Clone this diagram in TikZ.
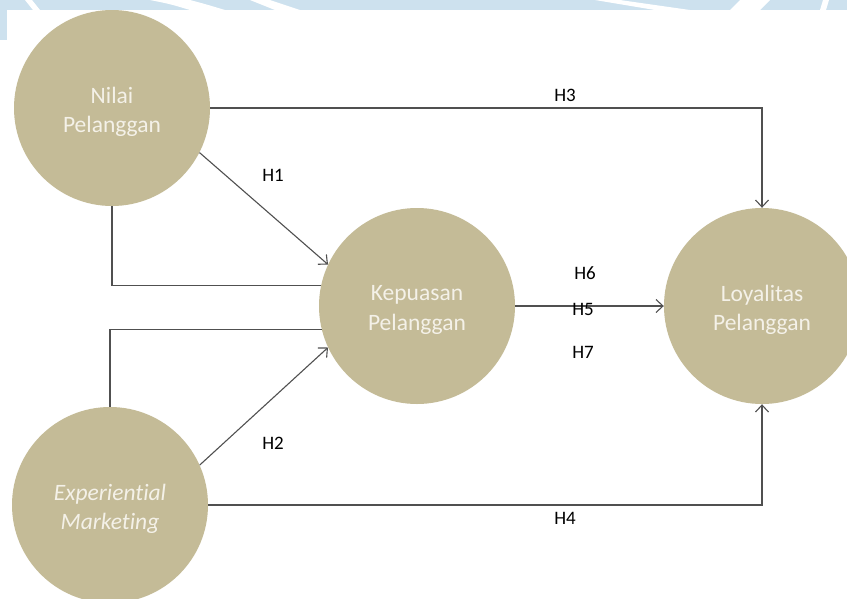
\documentclass[tikz,border=0pt]{standalone}
\usepackage{fontspec}
\setmainfont{Carlito}[Ligatures={NoCommon}]
\usetikzlibrary{arrows.meta}
\definecolor{khaki}{HTML}{C4BB97}
\definecolor{ctext}{HTML}{F4F1E8}
\definecolor{wm}{HTML}{CDE1EE}
\definecolor{lgray}{HTML}{505050}
\tikzset{
  var/.style={circle, fill=khaki, minimum size=196pt, inner sep=0pt},
  vtext/.style={text=ctext, align=center, inner sep=0pt, yshift=-4pt,
    font=\fontsize{23.5}{29.5}\selectfont},
  conn/.style={draw=lgray, line width=1.1pt},
  arr/.style={conn, -{Straight Barb[length=7pt,width=13pt,line width=1.1pt]}},
  hlab/.style={font=\fontsize{19}{22}\selectfont, text=black, inner sep=0pt}
}
\begin{document}
\begin{tikzpicture}[x=1pt,y=-1pt]
\useasboundingbox (0,0) rectangle (847,598);
\clip (0,0) rectangle (847,598);
\fill[white] (0,0) rectangle (847,598);
% watermark band
\fill[wm] (0,0) rectangle (847,10);
\fill[wm] (0,0) rectangle (7,40);
\fill[white] (25,0) -- (32,0) -- (40,10) -- (33,10) -- cycle;
\fill[white] (150,0) .. controls (170,4) .. (190,10) -- (225,10) .. controls (205,4) .. (190,0) -- cycle;
\fill[white] (250,0) -- (275,10) -- (300,10) -- (270,0) -- cycle;
\fill[white] (595,0) -- (655,10) -- (690,10) -- (620,0) -- cycle;
\fill[white] (740,0) -- (730,10) -- (760,10) -- (770,0) -- cycle;
\fill[white] (823,0) -- (820,10) -- (826,10) -- (829,0) -- cycle;

\node[var] (nilai) at (112,108) {};
\node[var] (kep) at (417,306) {};
\node[var] (loyal) at (762,306) {};
\node[var] (exp) at (110,505) {};
\node[vtext] (nilaiT) at (nilai) {Nilai\\Pelanggan};
\node[vtext] (kepT) at (kep) {Kepuasan\\Pelanggan};
\node[vtext] (loyalT) at (loyal) {Loyalitas\\Pelanggan};
\node[vtext, font=\fontsize{23.5}{29.5}\selectfont\itshape] (expT) at (exp) {Experiential\\Marketing};

% H3
\draw[arr] (nilai.east) -| (loyal.north);
% H1
\draw[arr] (nilai.-27) -- (kep.155);
% side line from Nilai
\draw[conn] (nilai.south) |- (kep.168);
% side line from Experiential
\draw[conn] (exp.north) |- (kep.194);
% H2
\draw[arr] (exp.24) -- (kep.205);
% H4
\draw[arr] (exp.east) -| (loyal.south);
% H5
\draw[arr] (kep.east) -- (loyal.west);

\node[hlab] (h3) at (565,95) {H3};
\node[hlab] (h1) at (273,175) {H1};
\node[hlab] (h2) at (273,443) {H2};
\node[hlab] (h4) at (565,518) {H4};
\node[hlab] (h6) at (585,273) {H6};
\node[hlab] (h5) at (583,309) {H5};
\node[hlab] (h7) at (583,352) {H7};
\end{tikzpicture}
\end{document}
